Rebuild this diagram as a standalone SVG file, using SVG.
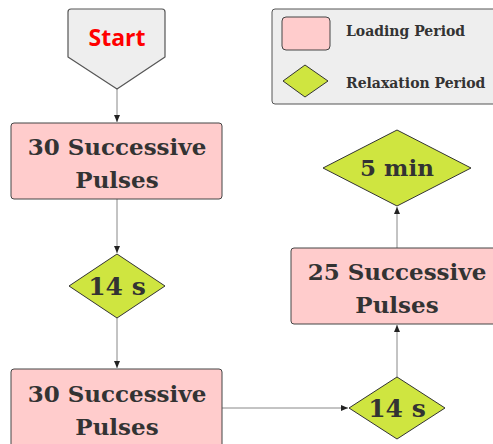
<svg xmlns="http://www.w3.org/2000/svg" width="493" height="444" viewBox="0 0 493 444">
<style>
.load{fill:#ffcccc;stroke:#444;stroke-width:1}
.relax{fill:#cfe540;stroke:#333;stroke-width:1;stroke-linejoin:round}
.t{font-family:"DejaVu Serif",serif;font-weight:bold;fill:#333;text-anchor:middle}
.conn{stroke:#888;stroke-width:1;fill:none}
</style>
<defs>
<marker id="arr" markerWidth="8" markerHeight="8" refX="7" refY="4" orient="auto" markerUnits="userSpaceOnUse">
<path d="M0,1 L7,4 L0,7 Z" fill="#222"/>
</marker>
</defs>
<rect width="493" height="444" fill="#fff"/>
<g id="connectors">
<path class="conn" d="M117,89 V122" marker-end="url(#arr)"/>
<path class="conn" d="M117,199 V253" marker-end="url(#arr)"/>
<path class="conn" d="M117,318 V368" marker-end="url(#arr)"/>
<path class="conn" d="M222,408 H348" marker-end="url(#arr)"/>
<path class="conn" d="M397,377 V325" marker-end="url(#arr)"/>
<path class="conn" d="M397,248 V207" marker-end="url(#arr)"/>
</g>
<g id="legend">
<rect x="272" y="9" width="240" height="95" rx="3" fill="#eeeeee" stroke="#555"/>
<rect x="282" y="17" width="48" height="33" rx="4" class="load"/>
<path d="M305,65 L328,81 L305,97 L283,81 Z" class="relax"/>
<text x="346" y="36" class="t" style="text-anchor:start;font-size:14px">Loading Period</text>
<text x="346" y="88" class="t" style="text-anchor:start;font-size:14px">Relaxation Period</text>
</g>
<g id="start">
<path d="M71,9 H162 Q165,9 165,12 V57 L117,89 L68,57 V12 Q68,9 71,9 Z" fill="#eeeeee" stroke="#555" stroke-width="1.2" stroke-linejoin="round"/>
<text x="117" y="46" font-family="'Open Sans',sans-serif" font-weight="bold" font-size="23" fill="#ff0000" text-anchor="middle">Start</text>
</g>
<g id="pulses30a">
<rect x="11" y="123" width="211" height="76" rx="3" class="load"/>
<text x="117" y="155" class="t" font-size="23">30 Successive</text>
<text x="117" y="188" class="t" font-size="23">Pulses</text>
</g>
<g id="relax14a">
<path d="M117,254 L165,286 L117,318 L69,286 Z" class="relax"/>
<text x="117" y="295" class="t" font-size="25">14 s</text>
</g>
<g id="pulses30b">
<rect x="11" y="369" width="211" height="80" rx="3" class="load"/>
<text x="117" y="402" class="t" font-size="23">30 Successive</text>
<text x="117" y="435" class="t" font-size="23">Pulses</text>
</g>
<g id="relax14b">
<path d="M397,377 L445,408 L397,439 L349,408 Z" class="relax"/>
<text x="397" y="417" class="t" font-size="25">14 s</text>
</g>
<g id="pulses25">
<rect x="291" y="248" width="211" height="76" rx="3" class="load"/>
<text x="397" y="280" class="t" font-size="23">25 Successive</text>
<text x="397" y="313" class="t" font-size="23">Pulses</text>
</g>
<g id="relax5min">
<path d="M397,130 L471,168 L397,206 L323,168 Z" class="relax"/>
<text x="397" y="176" class="t" font-size="23">5 min</text>
</g>
</svg>
